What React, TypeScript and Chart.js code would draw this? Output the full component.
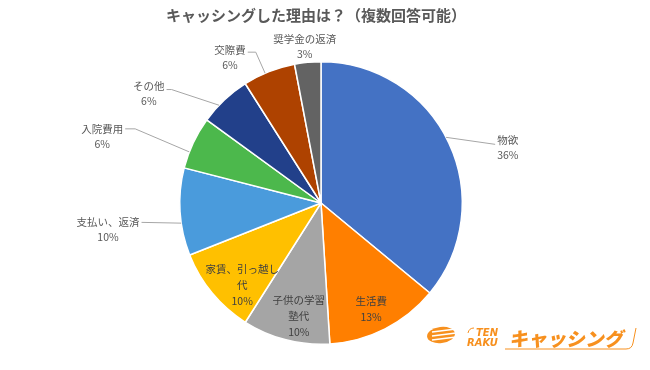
import React, { useEffect, useRef } from "react";
import { Chart, registerables } from "chart.js";

Chart.register(...registerables);

const TITLE = "キャッシングした理由は？（複数回答可能）";
const categories = [
  "物欲",
  "生活費",
  "子供の学習塾代",
  "家賃、引っ越し代",
  "支払い、返済",
  "入院費用",
  "その他",
  "交際費",
  "奨学金の返済",
];
const categoryLines = [
  ["物欲"],
  ["生活費"],
  ["子供の学習", "塾代"],
  ["家賃、引っ越し", "代"],
  ["支払い、返済"],
  ["入院費用"],
  ["その他"],
  ["交際費"],
  ["奨学金の返済"],
];
const values = [36, 13, 10, 10, 10, 6, 6, 6, 3];
const percentLabels = ["36%", "13%", "10%", "10%", "10%", "6%", "6%", "6%", "3%"];
const colors = [
  "#4472C4",
  "#FF7F00",
  "#A5A5A5",
  "#FFC000",
  "#4A9BDC",
  "#4CB84C",
  "#22408A",
  "#AE4200",
  "#636363",
];

// label placement styles (offset of label block from the slice's outer edge point)
const labelStyle = [
  { outside: true, dx: 59, dy: 5, leaderDeg: -2.5, ly: 4, elbow: 0 },
  { outside: false, dx: -14, dy: -20 },
  { outside: false, dx: 13, dy: -24 },
  { outside: false, dx: 30, dy: -8 },
  { outside: true, dx: -72, dy: 18, leaderDeg: -4.6, ly: 0, elbow: 0 },
  { outside: true, dx: -91, dy: -6.5, leaderDeg: -4, ly: 0, elbow: 10 },
  { outside: true, dx: -75.5, dy: -7, leaderDeg: -3, ly: 4, elbow: 5 },
  { outside: true, dx: -39, dy: -14, leaderDeg: -1.7, ly: 2, elbow: 8 },
  { outside: true, dx: -3, dy: -15.5, noLeader: true },
];

const LABEL_FONT = "10.5px 'Noto Sans CJK JP', 'Noto Sans', sans-serif";
const TEXT_COLOR = "#595959";

const labelsPlugin = {
  id: "pieLabels",
  afterDatasetsDraw(chart: any) {
    const ctx = chart.ctx as CanvasRenderingContext2D;
    const meta = chart.getDatasetMeta(0);
    ctx.save();
    ctx.font = LABEL_FONT;
    ctx.textAlign = "center";
    ctx.textBaseline = "middle";
    meta.data.forEach((arc: any, i: number) => {
      const p = arc.getProps(["x", "y", "startAngle", "endAngle", "outerRadius"], true);
      const mid = (p.startAngle + p.endAngle) / 2;
      const ex = p.x + Math.cos(mid) * p.outerRadius;
      const ey = p.y + Math.sin(mid) * p.outerRadius;
      const st: any = labelStyle[i];
      const lines = [...categoryLines[i], percentLabels[i]];
      const lh = st.outside ? 15 : 16;
      const cx = ex + st.dx;
      const cy = ey + st.dy;
      const y0 = cy - ((lines.length - 1) * lh) / 2;
      const w = Math.max(...lines.map((l) => ctx.measureText(l).width));
      if (st.outside && !st.noLeader) {
        const a = mid + (st.leaderDeg * Math.PI) / 180;
        const ax = p.x + Math.cos(a) * p.outerRadius;
        const ay = p.y + Math.sin(a) * p.outerRadius;
        const dir = st.dx > 0 ? -1 : 1;
        const sx = cx + dir * (w / 2 + 2);
        const sy = y0 + st.ly;
        ctx.strokeStyle = "#A6A6A6";
        ctx.lineWidth = 1;
        ctx.beginPath();
        ctx.moveTo(sx, sy);
        ctx.lineTo(sx + dir * st.elbow, sy);
        ctx.lineTo(ax, ay);
        ctx.stroke();
      }
      ctx.fillStyle = st.outside ? TEXT_COLOR : "#404040";
      lines.forEach((l, k) => ctx.fillText(l, cx, y0 + k * lh));
    });
    ctx.restore();
  },
  afterDraw(chart: any) {
    const ctx = chart.ctx as CanvasRenderingContext2D;
    ctx.save();
    // title
    ctx.font = "bold 15px 'Noto Sans CJK JP', sans-serif";
    ctx.fillStyle = TEXT_COLOR;
    ctx.textAlign = "center";
    ctx.textBaseline = "middle";
    ctx.fillText(TITLE, 316, 15);

    // logo
    const orange = "#F7901E";
    ctx.fillStyle = orange;
    ctx.beginPath();
    ctx.ellipse(441, 335, 14, 8, -0.12, 0, Math.PI * 2);
    ctx.fill();
    ctx.strokeStyle = "#fff";
    ctx.lineWidth = 1.6;
    for (let k = -1; k <= 1; k++) {
      ctx.beginPath();
      ctx.moveTo(432, 336 + k * 4);
      ctx.lineTo(456, 333 + k * 4);
      ctx.stroke();
    }
    ctx.textAlign = "left";
    ctx.textBaseline = "alphabetic";
    ctx.font = "italic bold 10px 'DejaVu Sans', sans-serif";
    ctx.fillText("TEN", 476, 336);
    ctx.fillText("RAKU", 467, 346);
    ctx.save();
    ctx.translate(509, 346);
    ctx.transform(1, 0, -0.2, 1, 0, 0);
    ctx.font = "900 19px 'Noto Sans CJK JP', sans-serif";
    ctx.fillText("キャッシング", 0, 0);
    ctx.restore();
    ctx.strokeStyle = orange;
    ctx.lineWidth = 1;
    ctx.beginPath();
    ctx.moveTo(474, 328);
    ctx.quadraticCurveTo(469, 328, 468, 333);
    ctx.stroke();
    ctx.beginPath();
    ctx.moveTo(505, 349);
    ctx.lineTo(626, 349);
    ctx.quadraticCurveTo(632, 349, 633, 343);
    ctx.lineTo(636, 328);
    ctx.stroke();
    ctx.restore();
  },
};

export default function App() {
  const ref = useRef<HTMLCanvasElement | null>(null);
  useEffect(() => {
    if (!ref.current) return;
    const chart = new Chart(ref.current, {
      type: "pie",
      data: {
        labels: categories,
        datasets: [
          {
            data: values,
            backgroundColor: colors,
            borderColor: "#FFFFFF",
            borderWidth: 1.5,
          },
        ],
      },
      options: {
        responsive: false,
        animation: false,
        layout: { padding: { top: 61, bottom: 25, left: 179, right: 187 } },
        plugins: {
          legend: { display: false },
          tooltip: { enabled: false },
          title: { display: false },
        },
      },
      plugins: [labelsPlugin],
    } as any);
    return () => chart.destroy();
  }, []);
  return (
    <div style={{ position: "fixed", left: 0, top: 0, width: 650, height: 370, background: "#fff" }}>
      <canvas ref={ref} width={650} height={370} style={{ display: "block" }} />
    </div>
  );
}
